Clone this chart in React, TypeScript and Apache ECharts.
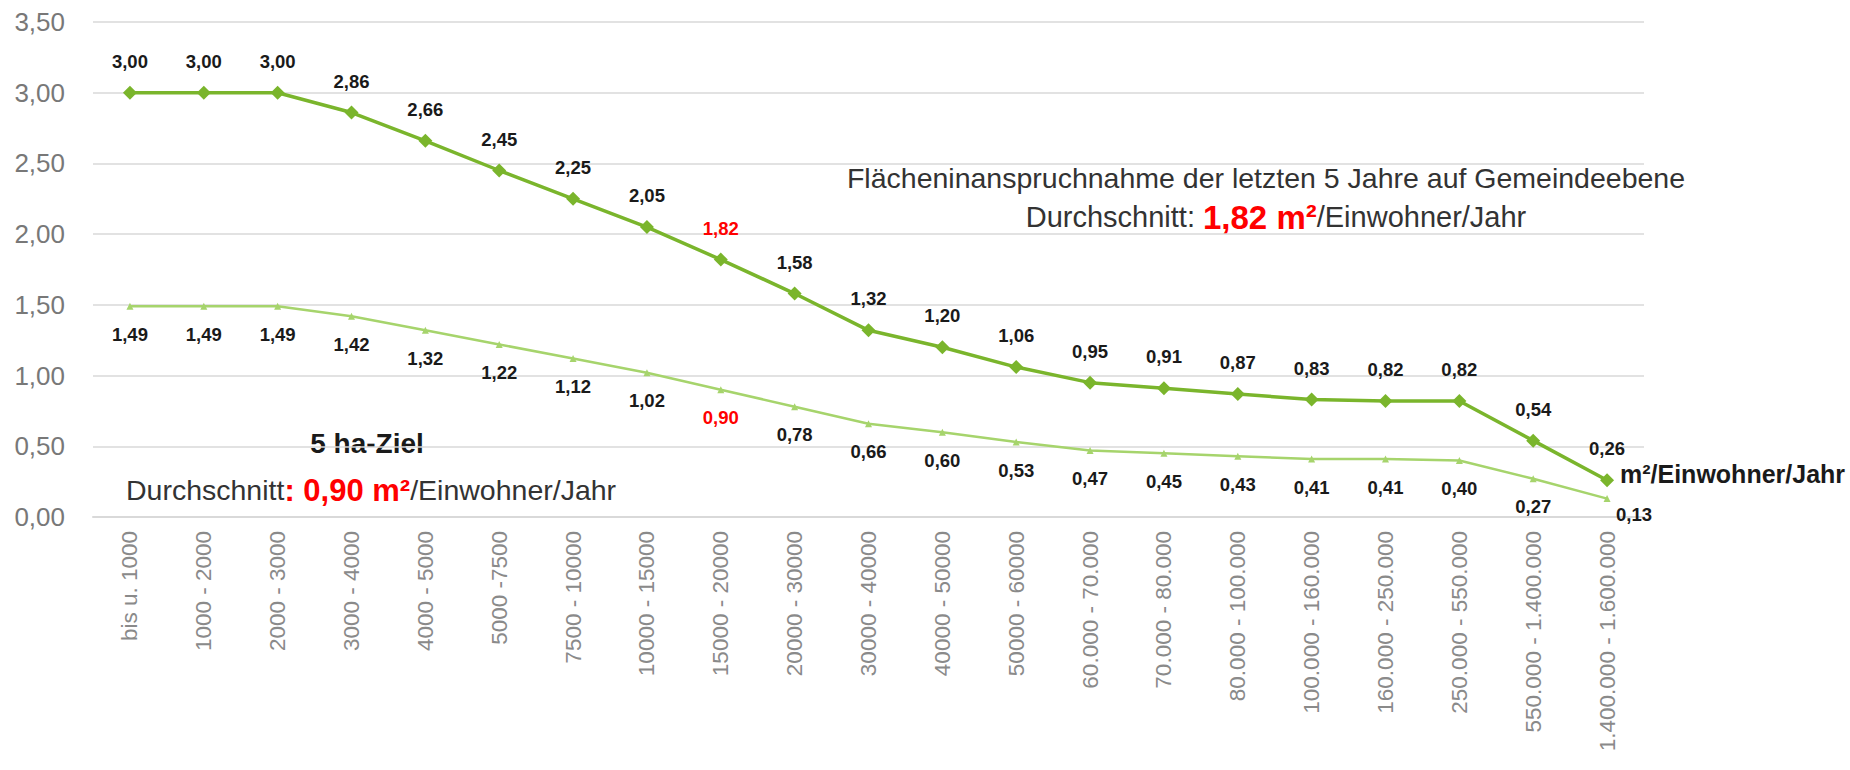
import React, { useEffect, useRef } from "react";
import * as echarts from "echarts";

const categories = [
  "bis u. 1000",
  "1000 - 2000",
  "2000 - 3000",
  "3000 - 4000",
  "4000 - 5000",
  "5000 -7500",
  "7500 - 10000",
  "10000 - 15000",
  "15000 - 20000",
  "20000 - 30000",
  "30000 - 40000",
  "40000 - 50000",
  "50000 - 60000",
  "60.000 - 70.000",
  "70.000 - 80.000",
  "80.000 - 100.000",
  "100.000 - 160.000",
  "160.000 - 250.000",
  "250.000 - 550.000",
  "550.000 - 1.400.000",
  "1.400.000 - 1.600.000",
];

const flaecheLetzte5Jahre = [
  3.0, 3.0, 3.0, 2.86, 2.66, 2.45, 2.25, 2.05, 1.82, 1.58, 1.32, 1.2, 1.06,
  0.95, 0.91, 0.87, 0.83, 0.82, 0.82, 0.54, 0.26,
];

const fuenfHaZiel = [
  1.49, 1.49, 1.49, 1.42, 1.32, 1.22, 1.12, 1.02, 0.9, 0.78, 0.66, 0.6, 0.53,
  0.47, 0.45, 0.43, 0.41, 0.41, 0.4, 0.27, 0.13,
];

const highlightIndex = 8;
const yMin = 0;
const yMax = 3.5;
const yInterval = 0.5;

const FONT = "'Liberation Sans', Arial, Helvetica, sans-serif";
const fmt = (v: number) => v.toFixed(2).replace(".", ",");

export default function App() {
  const ref = useRef<HTMLDivElement>(null);

  useEffect(() => {
    if (!ref.current) return;
    const chart = echarts.init(ref.current, undefined, { renderer: "svg" });

    const upperData = flaecheLetzte5Jahre.map((v, i) =>
      i === highlightIndex ? { value: v, label: { color: "#ff0000" } } : v
    );
    const lowerData = fuenfHaZiel.map((v, i) => {
      if (i === highlightIndex) return { value: v, label: { color: "#ff0000" } };
      if (i === fuenfHaZiel.length - 1) return { value: v, label: { offset: [27, -12] } };
      return v;
    });

    const option: any = {
      animation: false,
      backgroundColor: "#ffffff",
      textStyle: { fontFamily: FONT },
      grid: { left: 93, right: 206, top: 22, bottom: 253, containLabel: false },
      xAxis: {
        type: "category",
        data: categories,
        boundaryGap: true,
        axisTick: { show: false },
        axisLine: { lineStyle: { color: "#d9d9d9", width: 2 } },
        axisLabel: {
          rotate: 90,
          interval: 0,
          fontSize: 22.5,
          color: "#8a8a8a",
          margin: 14,
          fontFamily: FONT,
        },
      },
      yAxis: {
        type: "value",
        min: yMin,
        max: yMax,
        interval: yInterval,
        axisLine: { show: false },
        axisTick: { show: false },
        splitLine: { lineStyle: { color: "#d9d9d9", width: 1.5 } },
        axisLabel: {
          formatter: (v: number) => fmt(v),
          fontSize: 26,
          color: "#787878",
          margin: 28,
          fontFamily: FONT,
        },
      },
      series: [
        {
          name: "5 ha-Ziel",
          type: "line",
          data: lowerData,
          symbol: "triangle",
          symbolSize: 7,
          z: 2,
          lineStyle: { color: "#a6d46c", width: 2.5 },
          itemStyle: { color: "#a6d46c" },
          label: {
            show: true,
            position: "bottom",
            distance: 15,
            formatter: (p: any) => fmt(p.value),
            fontSize: 18.5,
            fontWeight: "bold",
            color: "#1a1a1a",
            fontFamily: FONT,
          },
        },
        {
          name: "Flächeninanspruchnahme",
          type: "line",
          data: upperData,
          symbol: "diamond",
          symbolSize: 14,
          z: 3,
          lineStyle: { color: "#7ab52c", width: 3.5 },
          itemStyle: { color: "#7ab52c" },
          label: {
            show: true,
            position: "top",
            distance: 15,
            formatter: (p: any) => fmt(p.value),
            fontSize: 18.5,
            fontWeight: "bold",
            color: "#1a1a1a",
            fontFamily: FONT,
          },
        },
      ],
      graphic: [
        {
          type: "text",
          x: 1266,
          y: 178,
          style: {
            text: "Flächeninanspruchnahme der letzten 5 Jahre auf Gemeindeebene",
            fontSize: 28.5,
            fontFamily: FONT,
            fill: "#333333",
            textAlign: "center",
            textVerticalAlign: "middle",
          },
        },
        {
          type: "text",
          x: 1276,
          y: 217,
          style: {
            text: "{n|Durchschnitt: }{r|1,82 m²}{n|/Einwohner/Jahr}",
            textAlign: "center",
            textVerticalAlign: "middle",
            rich: {
              n: { fontSize: 29, fontFamily: FONT, fill: "#333333", color: "#333333" },
              r: { fontSize: 33, fontWeight: "bold", fontFamily: FONT, fill: "#ff0000", color: "#ff0000" },
            },
          },
        },
        {
          type: "text",
          x: 367,
          y: 443,
          style: {
            text: "5 ha-Ziel",
            fontSize: 28,
            fontWeight: "bold",
            fontFamily: FONT,
            fill: "#1a1a1a",
            textAlign: "center",
            textVerticalAlign: "middle",
          },
        },
        {
          type: "text",
          x: 126,
          y: 490,
          style: {
            text: "{n|Durchschnitt}{r|: 0,90 m²}{n|/Einwohner/Jahr}",
            textAlign: "left",
            textVerticalAlign: "middle",
            rich: {
              n: { fontSize: 28.5, fontFamily: FONT, fill: "#333333", color: "#333333" },
              r: { fontSize: 31, fontWeight: "bold", fontFamily: FONT, fill: "#ff0000", color: "#ff0000" },
            },
          },
        },
        {
          type: "text",
          x: 1620,
          y: 474,
          style: {
            text: "m²/Einwohner/Jahr",
            fontSize: 25,
            fontWeight: "bold",
            fontFamily: FONT,
            fill: "#1a1a1a",
            textAlign: "left",
            textVerticalAlign: "middle",
          },
        },
      ],
    };

    chart.setOption(option);
    return () => chart.dispose();
  }, []);

  return (
    <div
      ref={ref}
      style={{ position: "fixed", left: 0, top: 0, width: 1850, height: 770, background: "#fff" }}
    />
  );
}
